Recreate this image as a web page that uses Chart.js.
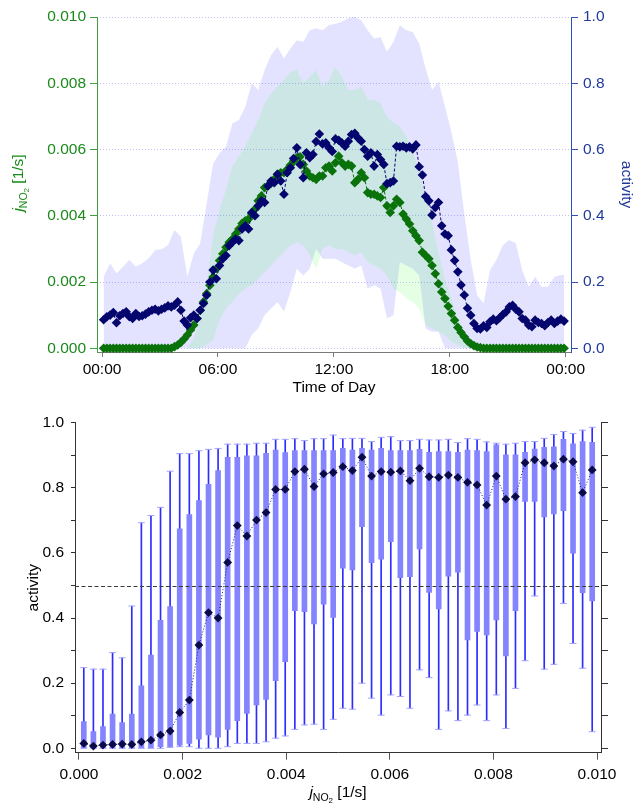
<!DOCTYPE html>
<html><head><meta charset="utf-8">
<script src="https://cdn.jsdelivr.net/npm/chart.js@4.4.0/dist/chart.umd.min.js"></script>
<style>
html,body{margin:0;padding:0;background:#fff;}
#wrap{width:636px;height:805px;position:relative;overflow:hidden;}
canvas{position:absolute;left:0;display:block;}
</style></head><body>
<div id="wrap">
<canvas id="topChart" width="636" height="400" style="top:0"></canvas>
<canvas id="botChart" width="636" height="405" style="top:400px"></canvas>
</div>
<script>
// ---------------- TOP PANEL DATA ----------------
const timeLabels = [
"00:05","00:15","00:25","00:35","00:45","00:55","01:05","01:15","01:25","01:35","01:45","01:55",
"02:05","02:15","02:25","02:35","02:45","02:55","03:05","03:15","03:25","03:35","03:45","03:55",
"04:05","04:15","04:25","04:35","04:45","04:55","05:05","05:15","05:25","05:35","05:45","05:55",
"06:05","06:15","06:25","06:35","06:45","06:55","07:05","07:15","07:25","07:35","07:45","07:55",
"08:05","08:15","08:25","08:35","08:45","08:55","09:05","09:15","09:25","09:35","09:45","09:55",
"10:05","10:15","10:25","10:35","10:45","10:55","11:05","11:15","11:25","11:35","11:45","11:55",
"12:05","12:15","12:25","12:35","12:45","12:55","13:05","13:15","13:25","13:35","13:45","13:55",
"14:05","14:15","14:25","14:35","14:45","14:55","15:05","15:15","15:25","15:35","15:45","15:55",
"16:05","16:15","16:25","16:35","16:45","16:55","17:05","17:15","17:25","17:35","17:45","17:55",
"18:05","18:15","18:25","18:35","18:45","18:55","19:05","19:15","19:25","19:35","19:45","19:55",
"20:05","20:15","20:25","20:35","20:45","20:55","21:05","21:15","21:25","21:35","21:45","21:55",
"22:05","22:15","22:25","22:35","22:45","22:55","23:05","23:15","23:25","23:35","23:45","23:55"];

const activityMedian = [
0.086,0.095,0.100,0.108,0.077,0.098, 0.105,0.110,0.095,0.090,0.105,0.096,
0.098,0.103,0.110,0.115,0.118,0.113, 0.118,0.122,0.128,0.125,0.130,0.140,
0.115,0.082,0.070,0.092,0.100,0.090, 0.115,0.135,0.160,0.200,0.236,0.210,
0.250,0.270,0.280,0.310,0.320,0.330, 0.325,0.360,0.370,0.360,0.410,0.400,
0.430,0.445,0.440,0.490,0.505,0.500, 0.525,0.505,0.465,0.530,0.545,0.573,
0.605,0.555,0.515,0.590,0.575,0.585, 0.624,0.647,0.617,0.620,0.605,0.594,
0.632,0.628,0.620,0.610,0.625,0.645, 0.649,0.635,0.625,0.600,0.580,0.590,
0.550,0.585,0.570,0.555,0.497,0.500, 0.505,0.610,0.608,0.610,0.605,0.608,
0.602,0.614,0.548,0.523,0.458,0.445, 0.402,0.425,0.440,0.370,0.345,0.340,
0.297,0.265,0.231,0.191,0.161,0.121, 0.100,0.075,0.060,0.058,0.068,0.063,
0.080,0.088,0.083,0.092,0.102,0.110, 0.125,0.130,0.118,0.110,0.090,0.085,
0.070,0.065,0.085,0.078,0.075,0.068, 0.078,0.085,0.075,0.082,0.088,0.082];

const jno2Median = [
0,0,0,0,0,0, 0,0,0,0,0,0, 0,0,0,0,0,0, 0,0,0,0,0.00005,0.0001,
0.00018,0.00028,0.0004,0.00055,0.0007,0.0009, 0.00115,0.0014,0.00165,0.0019,0.00215,0.0024,
0.00265,0.00285,0.00305,0.0032,0.0033,0.00345, 0.0036,0.00377,0.00385,0.0039,0.00405,0.0042,
0.00445,0.0046,0.00485,0.0049,0.00498,0.0051, 0.00525,0.0053,0.0053,0.0054,0.00553,0.00565,
0.00575,0.00578,0.00555,0.00535,0.0052,0.00515, 0.0051,0.0052,0.0052,0.00545,0.0055,0.00535,
0.0056,0.0058,0.0056,0.0055,0.00555,0.0055, 0.005,0.0051,0.0053,0.00515,0.0047,0.00465,
0.00465,0.0046,0.00455,0.00485,0.0043,0.0041, 0.0043,0.0045,0.0044,0.00405,0.0039,0.00375,
0.00355,0.0034,0.00325,0.0029,0.0028,0.0027, 0.0025,0.00225,0.00195,0.0017,0.0015,0.00127,
0.00105,0.00085,0.00063,0.00048,0.00035,0.00022, 0.00014,0.00008,0.00004,0.00002,0,0,
0,0,0,0,0,0, 0,0,0,0,0,0, 0,0,0,0,0,0, 0,0,0,0,0,0];

const bandTimes = [
"00:05","00:25","00:45","01:05","01:25","01:45","02:05","02:25","02:45","03:05","03:25","03:45",
"04:05","04:25","04:45","05:05","05:25","05:45","06:05","06:25","06:45","07:05","07:25","07:45",
"08:05","08:25","08:45","09:05","09:25","09:45","10:05","10:25","10:45","11:05","11:25","11:45",
"12:05","12:25","12:45","13:05","13:25","13:45","14:05","14:25","14:45","15:05","15:25","15:45",
"16:05","16:25","16:45","17:05","17:25","17:45","18:05","18:25","18:45","19:05","19:25","19:45",
"20:05","20:25","20:45","21:05","21:25","21:45","22:05","22:25","22:45","23:05","23:25","23:45","23:55"];

const activityHigh = [
0.216,0.257,0.226,0.246,0.267,0.246,0.257,0.272,0.297,0.299,0.312,0.357,
0.337,0.216,0.287,0.317,0.438,0.558,0.589,0.609,0.679,0.689,0.729,0.800,
0.780,0.840,0.885,0.910,0.875,0.905,0.930,0.925,0.960,0.966,0.960,0.976,
0.980,0.986,0.996,1.000,0.990,0.960,0.935,0.940,0.895,0.925,0.975,0.960,
0.955,0.920,0.845,0.780,0.805,0.730,0.654,0.563,0.407,0.267,0.161,0.136,
0.236,0.267,0.312,0.327,0.317,0.236,0.186,0.216,0.186,0.186,0.216,0.221,0.221];

const activityLow = [
0,0,0,0,0,0,0,0,0,0,0,0,
0,0,0,0,0,0,0,0,0,0,0,0.04,
0.06,0.10,0.12,0.14,0.11,0.17,0.24,0.22,0.24,0.30,0.27,0.27,
0.27,0.26,0.25,0.24,0.25,0.18,0.19,0.18,0.09,0.10,0.26,0.25,
0.24,0.22,0.06,0.05,0.05,0,0,0,0,0,0,0,
0,0,0,0,0,0,0,0,0,0,0,0,0];

const jno2High = [
0,0,0,0,0,0,0,0,0,0,0,0,
0,0,0.0003,0.0009,0.0019,0.0034,0.0042,0.0048,0.0055,0.0058,0.0061,0.0065,
0.0069,0.0074,0.0077,0.0079,0.0081,0.00835,0.0084,0.0080,0.0082,0.0084,0.0079,0.0081,
0.0085,0.0082,0.0078,0.0078,0.0079,0.0075,0.0075,0.0074,0.0070,0.0068,0.0067,0.0064,
0.0060,0.0053,0.0046,0.0038,0.0029,0.0021,0.0015,0.0009,0.0005,0.0002,0.00005,0,
0,0,0,0,0,0,0,0,0,0,0,0,0];

const jno2Low = [
0,0,0,0,0,0,0,0,0,0,0,0,
0,0,0,0,0.0001,0.00025,0.00085,0.0012,0.0014,0.00165,0.0018,0.0019,
0.0021,0.0023,0.0025,0.0027,0.0029,0.0031,0.0032,0.0031,0.0028,0.0024,0.0030,0.0031,
0.0030,0.0030,0.0029,0.0028,0.0029,0.0026,0.0025,0.0024,0.0022,0.0018,0.0017,0.0015,
0.0014,0.0012,0.0007,0.0006,0.0005,0.0004,0.0002,0.0001,0,0,0,0,
0,0,0,0,0,0,0,0,0,0,0,0,0];

const timeTickHours = [0, 6, 12, 18, 24];
const timeTickLabels = ["00:00","06:00","12:00","18:00","00:00"];
const jTickValues = [0, 0.002, 0.004, 0.006, 0.008, 0.010];
const jTickLabels = ["0.000","0.002","0.004","0.006","0.008","0.010"];
const actTickValues = [0, 0.2, 0.4, 0.6, 0.8, 1.0];
const actTickLabels = ["0.0","0.2","0.4","0.6","0.8","1.0"];

// ---------------- BOTTOM PANEL DATA ----------------
const binCenters = [
0.0000926,0.0002778,0.000463,0.000648,0.000833,0.001019,0.001204,0.001389,0.001574,0.001759,
0.001944,0.002130,0.002315,0.002500,0.002685,0.002870,0.003056,0.003241,0.003426,0.003611,
0.003796,0.003981,0.004167,0.004352,0.004537,0.004722,0.004907,0.005093,0.005278,0.005463,
0.005648,0.005833,0.006019,0.006204,0.006389,0.006574,0.006759,0.006944,0.007130,0.007315,
0.007500,0.007685,0.007870,0.008056,0.008241,0.008426,0.008611,0.008796,0.008981,0.009167,
0.009352,0.009537,0.009722,0.009907];
const whiskerHigh = [
0.248,0.243,0.243,0.294,0.278,0.437,0.693,0.715,0.740,0.851,
0.905,0.905,0.914,0.918,0.921,0.934,0.934,0.934,0.937,0.937,
0.949,0.949,0.951,0.945,0.951,0.951,0.962,0.951,0.952,0.952,
0.942,0.955,0.957,0.945,0.945,0.949,0.947,0.947,0.949,0.939,
0.951,0.949,0.941,0.937,0.934,0.937,0.942,0.942,0.952,0.964,
0.973,0.967,0.977,0.986];
const boxHigh = [
0.082,0.051,0.067,0.105,0.079,0.105,0.192,0.286,0.393,0.435,
0.674,0.718,0.761,0.811,0.853,0.894,0.894,0.898,0.898,0.906,
0.916,0.908,0.914,0.914,0.914,0.914,0.914,0.921,0.916,0.921,
0.916,0.921,0.914,0.914,0.914,0.918,0.909,0.911,0.911,0.909,
0.916,0.914,0.911,0.932,0.901,0.901,0.909,0.919,0.924,0.926,
0.949,0.935,0.942,0.940];
const boxLow = [
0,0,0,0,0,0,0,0,0.005,0.005,
0.010,0.015,0.028,0.041,0.034,0.058,0.085,0.107,0.133,0.150,
0.208,0.266,0.423,0.420,0.382,0.443,0.402,0.553,0.548,0.681,
0.570,0.581,0.635,0.524,0.527,0.612,0.479,0.428,0.529,0.541,
0.333,0.359,0.348,0.394,0.284,0.423,0.758,0.758,0.711,0.720,
0.730,0.599,0.478,0.453];
const whiskerLow = [
0,0,0,0,0,0,0,0,0,0.003,
0.005,0.005,0,0,0,0.005,0.015,0.015,0.015,0.020,
0.031,0.038,0.058,0.072,0.074,0.058,0.089,0.123,0.120,0.200,
0.154,0.102,0.164,0.159,0.123,0.241,0.217,0.058,0.115,0.085,
0.102,0.133,0.085,0.164,0.061,0.184,0.269,0.468,0.243,0.258,
0.445,0.322,0.246,0.051];
const binMedian = [
0.015,0.007,0.010,0.012,0.013,0.012,0.020,0.025,0.041,0.053,
0.110,0.148,0.317,0.417,0.400,0.571,0.684,0.652,0.701,0.724,
0.795,0.795,0.850,0.857,0.804,0.843,0.847,0.865,0.853,0.894,
0.836,0.850,0.848,0.852,0.822,0.860,0.834,0.832,0.839,0.832,
0.817,0.809,0.747,0.836,0.765,0.773,0.877,0.886,0.877,0.867,
0.888,0.880,0.785,0.855];
const activityThreshold = 0.5;
const jBinTickValues = [0, 0.002, 0.004, 0.006, 0.008, 0.010];
const jBinTickLabels = ["0.000","0.002","0.004","0.006","0.008","0.010"];
const actBinTickValues = [0,0.1,0.2,0.3,0.4,0.5,0.6,0.7,0.8,0.9,1.0];
const actBinTickLabels = ["0.0","","0.2","","0.4","","0.6","","0.8","","1.0"];

const titleTime = "Time of Day";
const titleActivity = "activity";
const jTitleParts = ["j", "NO", "2", " [1/s]"];

// ---------------- HELPERS ----------------
const FONT = "'Liberation Sans', Arial, Helvetica, sans-serif";
const FS = 15.5;
Chart.defaults.font.family = FONT;
Chart.defaults.font.size = FS;
Chart.defaults.color = '#000';

const toHours = s => { const p = s.split(':'); return Number(p[0]) + Number(p[1]) / 60; };
const pts = (xs, ys, fx) => ys.map((y, i) => ({ x: fx ? fx(xs[i]) : xs[i], y }));

function drawRich(ctx, cx, cy, rot, color) {
  const parts = [
    { t: jTitleParts[0], font: `italic ${FS}px ${FONT}`, dy: 0 },
    { t: jTitleParts[1], font: `10.5px ${FONT}`, dy: 3.5 },
    { t: jTitleParts[2], font: `8px ${FONT}`, dy: 5.5 },
    { t: jTitleParts[3], font: `${FS}px ${FONT}`, dy: 0 }
  ];
  ctx.save();
  ctx.translate(cx, cy);
  ctx.rotate(rot);
  ctx.fillStyle = color;
  ctx.textBaseline = 'alphabetic';
  ctx.textAlign = 'left';
  let w = 0;
  parts.forEach(p => { ctx.font = p.font; p.w = ctx.measureText(p.t).width; w += p.w; });
  let x = -w / 2;
  parts.forEach(p => { ctx.font = p.font; ctx.fillText(p.t, x, p.dy); x += p.w; });
  ctx.restore();
}

const fixTicks = (vals) => (scale) => { scale.ticks = vals.map(v => ({ value: v })); };

// ---------------- TOP CHART ----------------
const GREEN_TXT = '#1b8a1b', GREEN_AX = '#3f9f3f', GREEN_PT = '#0a720a';
const BLUE_TXT = '#1f3a9c', BLUE_AX = '#2f4fb5', BLUE_PT = '#05056e';

const topTitlePlugin = {
  id: 'topTitles',
  afterDraw(chart) {
    drawRich(chart.ctx, 23, 183, -Math.PI / 2, GREEN_TXT);
  }
};

new Chart(document.getElementById('topChart'), {
  type: 'line',
  data: {
    datasets: [
      { label: 'activity', data: pts(timeLabels, activityMedian, toHours), yAxisID: 'yR', order: 0,
        borderColor: BLUE_PT, borderWidth: 1, borderDash: [3, 2], pointStyle: 'rectRot', pointRadius: 4.8,
        pointBackgroundColor: BLUE_PT, pointBorderWidth: 0, fill: false, clip: false },
      { label: 'jNO2', data: pts(timeLabels, jno2Median, toHours), yAxisID: 'yL', order: 1,
        borderColor: GREEN_PT, borderWidth: 1, borderDash: [3, 2], pointStyle: 'rectRot', pointRadius: 4.8,
        pointBackgroundColor: GREEN_PT, pointBorderWidth: 0, fill: false, clip: false },
      { label: 'jNO2 low', data: pts(bandTimes, jno2Low, toHours), yAxisID: 'yL', order: 2,
        borderColor: 'rgba(0,0,0,0)', borderWidth: 0, pointRadius: 0, fill: false },
      { label: 'jNO2 high', data: pts(bandTimes, jno2High, toHours), yAxisID: 'yL', order: 2,
        borderColor: 'rgba(0,0,0,0)', borderWidth: 0, pointRadius: 0, fill: '-1',
        backgroundColor: 'rgba(0,255,0,0.10)' },
      { label: 'activity low', data: pts(bandTimes, activityLow, toHours), yAxisID: 'yR', order: 3,
        borderColor: 'rgba(0,0,0,0)', borderWidth: 0, pointRadius: 0, fill: false },
      { label: 'activity high', data: pts(bandTimes, activityHigh, toHours), yAxisID: 'yR', order: 3,
        borderColor: 'rgba(0,0,0,0)', borderWidth: 0, pointRadius: 0, fill: '-1',
        backgroundColor: 'rgba(0,0,255,0.11)' }
    ]
  },
  options: {
    responsive: false, animation: false, devicePixelRatio: 1,
    layout: { padding: { top: 17, left: 0, right: 0, bottom: 0 } },
    plugins: { legend: { display: false }, tooltip: { enabled: false } },
    elements: { line: { tension: 0 } },
    scales: {
      x: {
        type: 'linear', position: 'bottom', min: -0.26, max: 24.275,
        afterBuildTicks: fixTicks(timeTickHours),
        afterFit: s => { s.height = 48; },
        grid: { drawOnChartArea: false, tickLength: 5, tickColor: '#7a7a7a' },
        border: { color: '#7a7a7a', width: 1 },
        ticks: { color: '#000', padding: 3, maxRotation: 0, callback: (v, i) => timeTickLabels[i] },
        title: { display: true, text: titleTime, color: '#000', padding: { top: 0, bottom: 3 } }
      },
      yL: {
        type: 'linear', position: 'left', min: -0.000112, max: 0.010,
        afterBuildTicks: fixTicks(jTickValues),
        afterFit: s => { s.width = 97; },
        grid: { drawOnChartArea: false, tickLength: 7, tickColor: GREEN_AX },
        border: { color: GREEN_AX, width: 1 },
        ticks: { color: GREEN_TXT, padding: 4, callback: (v, i) => jTickLabels[i] }
      },
      yR: {
        type: 'linear', position: 'right', min: -0.0112, max: 1.0,
        afterBuildTicks: fixTicks(actTickValues),
        afterFit: s => { s.width = 65; },
        grid: { drawOnChartArea: true, color: '#c2c2fa', lineWidth: 1, tickLength: 7, tickColor: BLUE_AX },
        border: { color: BLUE_AX, width: 1, dash: [1, 2] },
        ticks: { color: BLUE_TXT, padding: 5, callback: (v, i) => actTickLabels[i] },
        title: { display: true, text: titleActivity, color: BLUE_TXT, padding: { top: 0, bottom: 0 } }
      }
    }
  },
  plugins: [topTitlePlugin]
});

// ---------------- BOTTOM CHART ----------------
const botPlugin = {
  id: 'botExtras',
  afterDatasetsDraw(chart) {
    const { ctx, chartArea } = chart;
    const y = chart.scales.y.getPixelForValue(activityThreshold);
    ctx.save();
    ctx.strokeStyle = '#3a3a3a';
    ctx.lineWidth = 1;
    ctx.setLineDash([4, 2.5]);
    ctx.beginPath();
    ctx.moveTo(chartArea.left, Math.round(y) + 0.5);
    ctx.lineTo(chartArea.right, Math.round(y) + 0.5);
    ctx.stroke();
    ctx.restore();
  },
  afterDraw(chart) {
    const ca = chart.chartArea;
    drawRich(chart.ctx, (ca.left + ca.right) / 2, 397, 0, '#000');
  }
};

new Chart(document.getElementById('botChart'), {
  type: 'bar',
  data: {
    datasets: [
      { type: 'line', label: 'median activity', data: pts(binCenters, binMedian), order: 0,
        borderColor: '#202070', borderWidth: 1, borderDash: [1, 2], pointStyle: 'rectRot', pointRadius: 4.4,
        pointBackgroundColor: '#0a0a4a', pointBorderWidth: 0, fill: false, clip: false },
      { type: 'line', label: 'upper whisker cap', data: pts(binCenters, whiskerHigh), order: 1, showLine: false,
        pointStyle: 'line', pointRadius: 3.5, pointBorderColor: '#a4a4ff', pointBorderWidth: 1, clip: false },
      { type: 'line', label: 'lower whisker cap', data: pts(binCenters, whiskerLow), order: 1, showLine: false,
        pointStyle: 'line', pointRadius: 3.5, pointBorderColor: '#a4a4ff', pointBorderWidth: 1, clip: false },
      { type: 'bar', label: 'interquartile', data: binCenters.map((x, i) => ({ x, y: [boxLow[i], boxHigh[i]] })),
        order: 2, backgroundColor: '#8484ff', barThickness: 5, grouped: false, borderWidth: 0 },
      { type: 'bar', label: 'range', data: binCenters.map((x, i) => ({ x, y: [whiskerLow[i], whiskerHigh[i]] })),
        order: 3, backgroundColor: '#2c2cff', barThickness: 1, grouped: false, borderWidth: 0 }
    ]
  },
  options: {
    responsive: false, animation: false, devicePixelRatio: 1,
    layout: { padding: { top: 22.7, left: 0, right: 0, bottom: 0 } },
    plugins: { legend: { display: false }, tooltip: { enabled: false } },
    scales: {
      x: {
        type: 'linear', position: 'bottom', offset: false, min: -0.0000772, max: 0.010077,
        afterBuildTicks: fixTicks(jBinTickValues),
        afterFit: s => { s.height = 52.3; },
        grid: { offset: false, drawOnChartArea: false, tickLength: 7, tickColor: '#555' },
        border: { color: '#333', width: 1 },
        ticks: { color: '#000', padding: 6, maxRotation: 0, callback: (v, i) => jBinTickLabels[i] }
      },
      y: {
        type: 'linear', position: 'left', min: -0.0135, max: 1.0, beginAtZero: false,
        afterBuildTicks: fixTicks(actBinTickValues),
        afterFit: s => { s.width = 75; },
        grid: { drawOnChartArea: false, tickLength: 4, tickColor: '#333' },
        border: { color: '#333', width: 1 },
        ticks: { color: '#000', padding: 7, callback: (v, i) => actBinTickLabels[i] },
        title: { display: true, text: titleActivity, color: '#000', padding: { top: 24, bottom: 0 } }
      },
      y2: {
        type: 'linear', position: 'right', min: -0.0135, max: 1.0,
        afterBuildTicks: fixTicks(actBinTickValues),
        afterFit: s => { s.width = 35; },
        grid: { drawOnChartArea: false, tickLength: 7, tickColor: '#333' },
        border: { color: '#333', width: 1 },
        ticks: { display: true, callback: () => '' }
      }
    }
  },
  plugins: [botPlugin]
});
</script>
</body></html>
